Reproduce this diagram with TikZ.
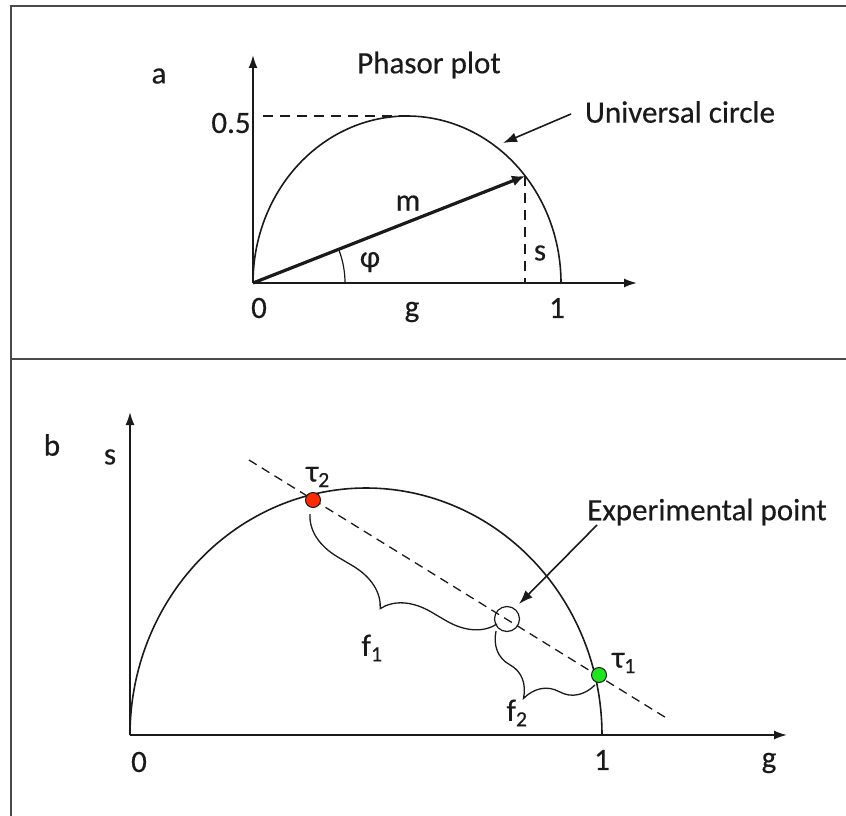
\documentclass[tikz,border=0pt]{standalone}
\usepackage{fontspec}
\setmainfont{Carlito}[FakeBold=0.4]
\usetikzlibrary{arrows.meta,decorations.pathreplacing}
\definecolor{ink}{HTML}{1A1A1A}
\definecolor{framegray}{HTML}{4A4A4A}
\definecolor{taured}{HTML}{FF2A00}
\definecolor{taugreen}{HTML}{1EE61E}
\tikzset{
  lbl/.style={font=\fontsize{31}{33}\selectfont, text=ink, inner sep=0pt},
  axis/.style={draw=ink, line width=1.8pt, -{Latex[length=13pt,width=9pt]}},
  curve/.style={draw=ink, line width=1.6pt},
  vec/.style={draw=ink, line width=3.2pt, -{Latex[length=13pt,width=11pt]}},
  pointer/.style={draw=ink, line width=1.6pt, -{Latex[length=14pt,width=10pt]}},
  dashline/.style={draw=ink, line width=1.4pt, dash pattern=on 10pt off 7pt},
  dashline2/.style={draw=ink, line width=1.3pt, dash pattern=on 9pt off 6pt},
  framel/.style={draw=framegray, line width=2.4pt},
  bracel/.style={draw=ink, line width=1.3pt, decorate, decoration={brace, amplitude=46pt, aspect=0.5}},
  dot/.style={circle, draw=ink, line width=1pt, minimum size=15pt, inner sep=0pt},
}
\begin{document}
\begin{tikzpicture}[x=1pt, y=-1pt]
\useasboundingbox (0,0) rectangle (846,816);
% frame
\draw[framel] (852,6) -- (11,6) -- (11,822);
\draw[framel] (11,359) -- (852,359);

% ---------- panel a ----------
\coordinate (Oa) at (253,283);
\coordinate (Ya) at (253,55);
\coordinate (Xa) at (637,283);
\coordinate (Ta) at (525,176);
\coordinate (Ta0) at (525,283);
\coordinate (Ha) at (263,116);
\coordinate (Hb) at (405,116);
\draw[curve] plot[domain=180:0, samples=150] ({407+154*cos(\x)},{283-167*sin(\x)});
\draw[axis] (Oa) -- (Ya);
\draw[axis] (Oa) -- (Xa);
\draw[dashline] (Ha) -- (Hb);
\draw[dashline] (Ta) -- (Ta0);
\draw[curve, line width=1.2pt] plot[domain=0:21.5, samples=30] ({253+92*cos(\x)},{283-92*sin(\x)});
\draw[vec] (Oa) -- (Ta);

\node[lbl] (la) at (159,76) {a};
\node[lbl] (phasor) at (429,65) {Phasor plot};
\node[lbl] (univ) at (680,112) {Universal circle};
\coordinate (univtip) at (503,143);
\coordinate (univstart) at (571,114);
\draw[pointer] (univstart) -- (univtip);
\node[lbl] (half) at (231,123) {0.5};
\node[lbl] (m) at (408,203) {m};
\node[lbl] (sa) at (540,253) {s};
\node[lbl] (phi) at (370,262) {φ};
\node[lbl] (za) at (259,308) {0};
\node[lbl] (ga) at (412,312) {g};
\node[lbl] (oa) at (557,308) {1};

% ---------- panel b ----------
\coordinate (Ob) at (130,735);
\coordinate (Yb) at (130,412);
\coordinate (Xb) at (787,735);
\coordinate (Da) at (249,460);
\coordinate (Db) at (668,719);
\draw[curve] plot[domain=180:0, samples=200] ({366+236*cos(\x)},{735-247*sin(\x)});
\draw[axis] (Ob) -- (Yb);
\draw[axis] (Ob) -- (Xb);
\draw[dashline2] (Da) -- (Db);

% braces
\coordinate (f1a) at (497,624);
\coordinate (f1b) at (310,514);
\coordinate (f2a) at (595,685);
\coordinate (f2b) at (496,631);
\draw[bracel] (f1a) -- (f1b);
\draw[bracel] (f2a) -- (f2b);

\node[dot, fill=taured] (t2) at (313,500) {};
\node[dot, fill=taugreen] (t1) at (599,675) {};
\node[circle, draw=ink, line width=1.2pt, fill=none, minimum size=25pt, inner sep=0pt] (exp) at (507,619) {};

\node[lbl] (t2l) at (318,477) {τ\textsubscript{2}};
\node[lbl] (t1l) at (624,663) {τ\textsubscript{1}};
\node[lbl] (expl) at (707,512) {Experimental point};
\coordinate (expstart) at (597,525);
\coordinate (exptip) at (519,604);
\draw[pointer] (expstart) -- (exptip);
\node[lbl] (f1) at (372,648) {f\textsubscript{1}};
\node[lbl] (f2) at (517,713) {f\textsubscript{2}};

\node[lbl] (lb) at (52,445) {b};
\node[lbl] (sb) at (110,457) {s};
\node[lbl] (zb) at (139,762) {0};
\node[lbl] (ob) at (602,760) {1};
\node[lbl] (gb) at (769,763) {g};
\end{tikzpicture}
\end{document}
